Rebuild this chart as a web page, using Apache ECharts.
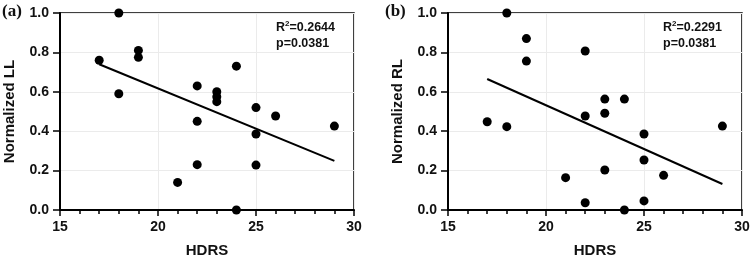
<!DOCTYPE html>
<html>
<head>
<meta charset="utf-8">
<script src="https://cdn.jsdelivr.net/npm/echarts@6/dist/echarts.min.js"></script>
<style>
  html, body { margin: 0; padding: 0; background: #fff; }
  #chart { width: 750px; height: 259px; }
</style>
</head>
<body>
<div id="chart"></div>
<script>
// HDRS score vs normalized lengths
const llPoints = [
  [17, 0.76], [18, 1.0], [18, 0.59], [19, 0.81], [19, 0.775],
  [21, 0.14], [22, 0.63], [22, 0.45], [22, 0.23],
  [23, 0.60], [23, 0.575], [23, 0.55], [24, 0.73], [24, 0.0],
  [25, 0.52], [25, 0.386], [25, 0.228], [26, 0.477], [29, 0.426]
]
const llFit = [[17, 0.74], [29, 0.249]]

const rlPoints = [
  [17, 0.448], [18, 1.0], [18, 0.423], [19, 0.87], [19, 0.756],
  [21, 0.164], [22, 0.807], [22, 0.477], [22, 0.037],
  [23, 0.563], [23, 0.491], [23, 0.203], [24, 0.563], [24, 0.0],
  [25, 0.386], [25, 0.254], [25, 0.046], [26, 0.176], [29, 0.426]
]
const rlFit = [[17, 0.665], [29, 0.132]]

const panelNames = ['Normalized LL', 'Normalized RL']
const statsR2 = ['0.2644', '0.2291']
const statsP = ['0.0381', '0.0381']

const chart = echarts.init(document.getElementById('chart'))

const font = 'Liberation Sans, Arial, sans-serif'

function xAxis(gi) {
  return {
    gridIndex: gi, type: 'value', min: 15, max: 30, interval: 5,
    name: 'HDRS', nameLocation: 'middle', nameGap: 33,
    nameTextStyle: { fontFamily: font, fontWeight: 'bold', fontSize: 15, color: '#111' },
    axisLine: { lineStyle: { color: '#000', width: 2 } },
    axisTick: { length: 6, lineStyle: { color: '#000', width: 1.5 } },
    minorTick: { show: true, splitNumber: 5, length: 4, lineStyle: { color: '#000', width: 1.5 } },
    axisLabel: { fontFamily: font, fontWeight: 'bold', fontSize: 14, color: '#111', margin: 10 },
    splitLine: { show: true, lineStyle: { color: '#ebebeb', width: 1 } }
  }
}

function yAxis(gi, name) {
  return {
    gridIndex: gi, type: 'value', min: 0, max: 1, interval: 0.2,
    name: name, nameLocation: 'middle', nameGap: 43,
    nameTextStyle: { fontFamily: font, fontWeight: 'bold', fontSize: 15, color: '#111' },
    axisLine: { lineStyle: { color: '#000', width: 2 } },
    axisTick: { length: 7, lineStyle: { color: '#000', width: 1.5 } },
    axisLabel: {
      fontFamily: font, fontWeight: 'bold', fontSize: 14, color: '#111', margin: 11,
      formatter: v => v.toFixed(1)
    },
    splitLine: { show: true, lineStyle: { color: '#ebebeb', width: 1 } }
  }
}

function scatter(gi, data) {
  return {
    type: 'scatter', xAxisIndex: gi, yAxisIndex: gi, data: data,
    symbolSize: 9, itemStyle: { color: '#000', opacity: 1 }, z: 5
  }
}

function fitLine(gi, data) {
  return {
    type: 'line', xAxisIndex: gi, yAxisIndex: gi, data: data,
    symbol: 'none', lineStyle: { color: '#000', width: 2 }, z: 4
  }
}

function statsText(left, r2, p) {
  return {
    type: 'text', left: left, top: 20,
    style: {
      text: '{a|R}{s|2}{a|=' + r2 + '}\n{a|p=' + p + '}',
      rich: {
        a: { fontFamily: font, fontWeight: 'bold', fontSize: 12.5, fill: '#111', lineHeight: 16 },
        s: { fontFamily: font, fontWeight: 'bold', fontSize: 8, fill: '#111', verticalAlign: 'top', lineHeight: 16, padding: [0, 0, 6, 0] }
      }
    }
  }
}

chart.setOption({
  animation: false,
  grid: [
    { left: 60, right: 396, top: 13, bottom: 49, show: true, borderColor: '#000', borderWidth: 1.5, outerBoundsMode: 'none' },
    { left: 448, right: 8, top: 13, bottom: 49, show: true, borderColor: '#000', borderWidth: 1.5, outerBoundsMode: 'none' }
  ],
  xAxis: [xAxis(0), xAxis(1)],
  yAxis: [yAxis(0, panelNames[0]), yAxis(1, panelNames[1])],
  series: [
    scatter(0, llPoints), fitLine(0, llFit),
    scatter(1, rlPoints), fitLine(1, rlFit)
  ],
  graphic: [
    { type: 'text', left: 2, top: 3, style: { text: '(a)', fontFamily: 'Liberation Serif, Times New Roman, serif', fontWeight: 'bold', fontSize: 17, fill: '#111' } },
    { type: 'text', left: 385, top: 3, style: { text: '(b)', fontFamily: 'Liberation Serif, Times New Roman, serif', fontWeight: 'bold', fontSize: 17, fill: '#111' } },
    statsText(276, statsR2[0], statsP[0]),
    statsText(663, statsR2[1], statsP[1])
  ]
})
</script>
</body>
</html>
